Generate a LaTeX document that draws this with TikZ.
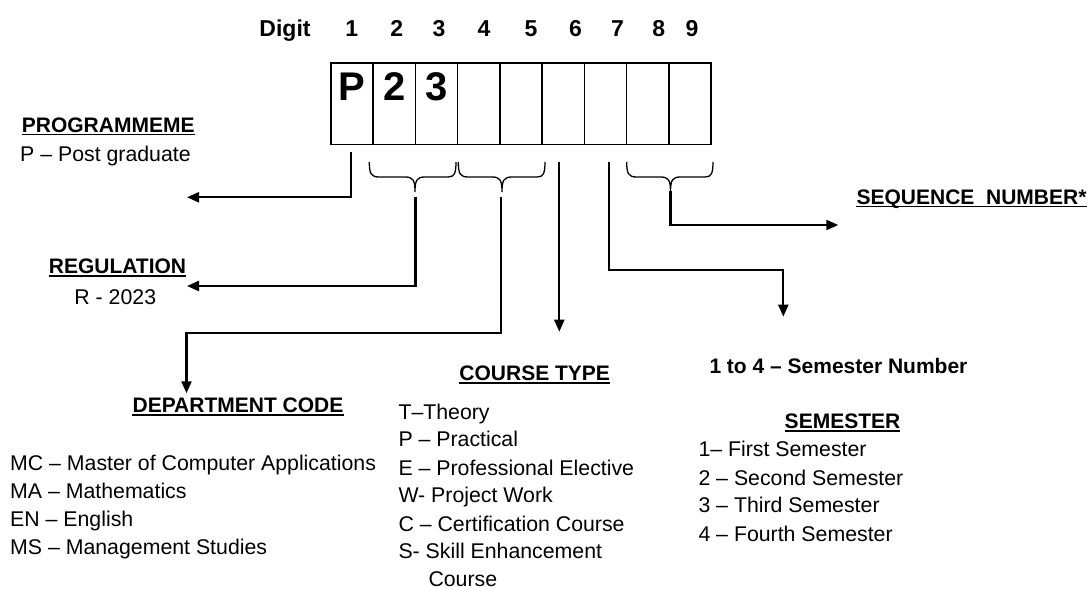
\documentclass[tikz,border=0pt]{standalone}
\usepackage{fontspec}
\setmainfont{Liberation Sans}
\usetikzlibrary{arrows.meta}
\begin{document}
\begin{tikzpicture}[x=1pt,y=-1pt,
  txt/.style={inner sep=0pt, font=\fontsize{21.3}{25}\selectfont},
  hd/.style={inner sep=0pt, font=\fontsize{21}{25}\selectfont\bfseries},
  dig/.style={inner sep=0pt, font=\fontsize{23}{25}\selectfont\bfseries},
  big/.style={inner sep=0pt, font=\fontsize{40}{42}\selectfont\bfseries},
  cell/.style={draw, line width=1.5pt, minimum width=42.22pt, minimum height=81.5pt, inner sep=0pt},
  conn/.style={line width=2.2pt, -{Triangle[length=12pt,width=10pt]}},
  brc/.style={line width=1.3pt},
  uline/.style={line width=1.6pt}]
\useasboundingbox (0,0) rectangle (1088,589);

% header
\node[dig, anchor=base] (dg) at (285,36) {Digit};
\node[dig, anchor=base] (d1) at (351.7,36) {1};
\node[dig, anchor=base] (d2) at (396.7,36) {2};
\node[dig, anchor=base] (d3) at (439,36) {3};
\node[dig, anchor=base] (d4) at (484,36) {4};
\node[dig, anchor=base] (d5) at (531,36) {5};
\node[dig, anchor=base] (d6) at (575.5,36) {6};
\node[dig, anchor=base] (d7) at (617.5,36) {7};
\node[dig, anchor=base] (d8) at (658.8,36) {8};
\node[dig, anchor=base] (d9) at (692,36) {9};

% cells
\foreach \i in {1,...,9}{
  \node[cell] (c\i) at ({331+42.22*(\i-0.5)},103.75) {};
}
\node[big, anchor=base] (lp) at (c1.center |- 0,100) {P};
\node[big, anchor=base] (l2) at (c2.center |- 0,100) {2};
\node[big, anchor=base] (l3) at (c3.center |- 0,100) {3};

% braces
\draw[brc] (369.3,162) .. controls (369.3,174) and (371.3,177) .. (379.3,177) -- (405,177)
  .. controls (413,177) and (415,180) .. (415,192)
  .. controls (415,180) and (417,177) .. (425,177) -- (448,177)
  .. controls (454,177) and (456,174) .. (456,162);
\draw[brc] (458.3,162) .. controls (458.3,174) and (460.3,177) .. (468.3,177) -- (492,177)
  .. controls (500,177) and (502,180) .. (502,192)
  .. controls (502,180) and (504,177) .. (512,177) -- (537,177)
  .. controls (543,177) and (545,174) .. (545,162);
\draw[brc] (626.7,162) .. controls (626.7,174) and (628.7,177) .. (636.7,177) -- (660.5,177)
  .. controls (668.5,177) and (670.5,180) .. (670.5,192)
  .. controls (670.5,180) and (672.5,177) .. (680.5,177) -- (705,177)
  .. controls (711,177) and (713,174) .. (713,162);

% connector points
\coordinate (s1) at (351,152);
\coordinate (e1) at (187,197.3);
\coordinate (s2) at (415.5,197.3);
\coordinate (e2) at (187,286);
\coordinate (s3) at (501,197.3);
\coordinate (k3) at (186.5,332.7);
\coordinate (e3) at (186.5,393.3);
\coordinate (s4) at (559.3,162);
\coordinate (e4) at (559.3,331.7);
\coordinate (s5) at (609,162);
\coordinate (k5) at (783.3,270);
\coordinate (e5) at (783.3,316.7);
\coordinate (s6) at (670.5,191);
\coordinate (e6) at (838.3,225);

\draw[conn] (s1) |- (e1);
\draw[conn] (s2) |- (e2);
\draw[conn] (s3) |- (k3) -- (e3);
\draw[conn] (s4) -- (e4);
\draw[conn] (s5) |- (k5) -- (e5);
\draw[conn] (s6) |- (e6);

% programme
\node[hd, anchor=base west] (hprog) at (21.7,132) {PROGRAMMEME};
\draw[uline] ([yshift=-2.5pt]hprog.base west) -- ([yshift=-2.5pt]hprog.base east);
\node[txt, anchor=base west] (tprog) at (20,161.7) {P -- Post graduate};

% regulation
\node[hd, anchor=base] (hreg) at (117.5,273.3) {REGULATION};
\draw[uline] ([yshift=-2.5pt]hreg.base west) -- ([yshift=-2.5pt]hreg.base east);
\node[txt, anchor=base] (treg) at (115.3,304) {R - 2023};

% department
\node[hd, anchor=base] (hdep) at (238,412.7) {DEPARTMENT CODE};
\draw[uline] ([yshift=-2.5pt]hdep.base west) -- ([yshift=-2.5pt]hdep.base east);
\node[txt, anchor=base west] (dep1) at (10,470) {MC -- Master of Computer Applications};
\node[txt, anchor=base west] (dep2) at (10,498.3) {MA -- Mathematics};
\node[txt, anchor=base west] (dep3) at (10,526.7) {EN -- English};
\node[txt, anchor=base west] (dep4) at (10,554) {MS -- Management Studies};

% course type
\node[hd, anchor=base] (hct) at (534.7,380.7) {COURSE TYPE};
\draw[uline] ([yshift=-2.5pt]hct.base west) -- ([yshift=-2.5pt]hct.base east);
\node[txt, anchor=base west] (ct1) at (398.3,419.3) {T--Theory};
\node[txt, anchor=base west] (ct2) at (398.3,446.7) {P -- Practical};
\node[txt, anchor=base west] (ct3) at (398.3,475) {E -- Professional Elective};
\node[txt, anchor=base west] (ct4) at (398.3,502.7) {W- Project Work};
\node[txt, anchor=base west] (ct5) at (398.3,531) {C -- Certification Course};
\node[txt, anchor=base west] (ct6) at (398.3,558.3) {S- Skill Enhancement};
\node[txt, anchor=base west] (ct7) at (428.3,586.2) {Course};

% semester
\node[hd, anchor=base west] (snum) at (709.3,373.3) {1 to 4 -- Semester Number};
\node[hd, anchor=base] (hsem) at (842.5,428.3) {SEMESTER};
\draw[uline] ([yshift=-2.5pt]hsem.base west) -- ([yshift=-2.5pt]hsem.base east);
\node[txt, anchor=base west] (sm1) at (698.3,456.7) {1-- First Semester};
\node[txt, anchor=base west] (sm2) at (698.3,485) {2 -- Second Semester};
\node[txt, anchor=base west] (sm3) at (698.3,512.7) {3 -- Third Semester};
\node[txt, anchor=base west] (sm4) at (698.3,541.7) {4 -- Fourth Semester};

% sequence
\node[hd, anchor=base east] (hseq) at (1086.7,204) {SEQUENCE\ \ NUMBER*};
\draw[uline] ([yshift=-2.5pt]hseq.base west) -- ([yshift=-2.5pt]hseq.base east);
\end{tikzpicture}
\end{document}
